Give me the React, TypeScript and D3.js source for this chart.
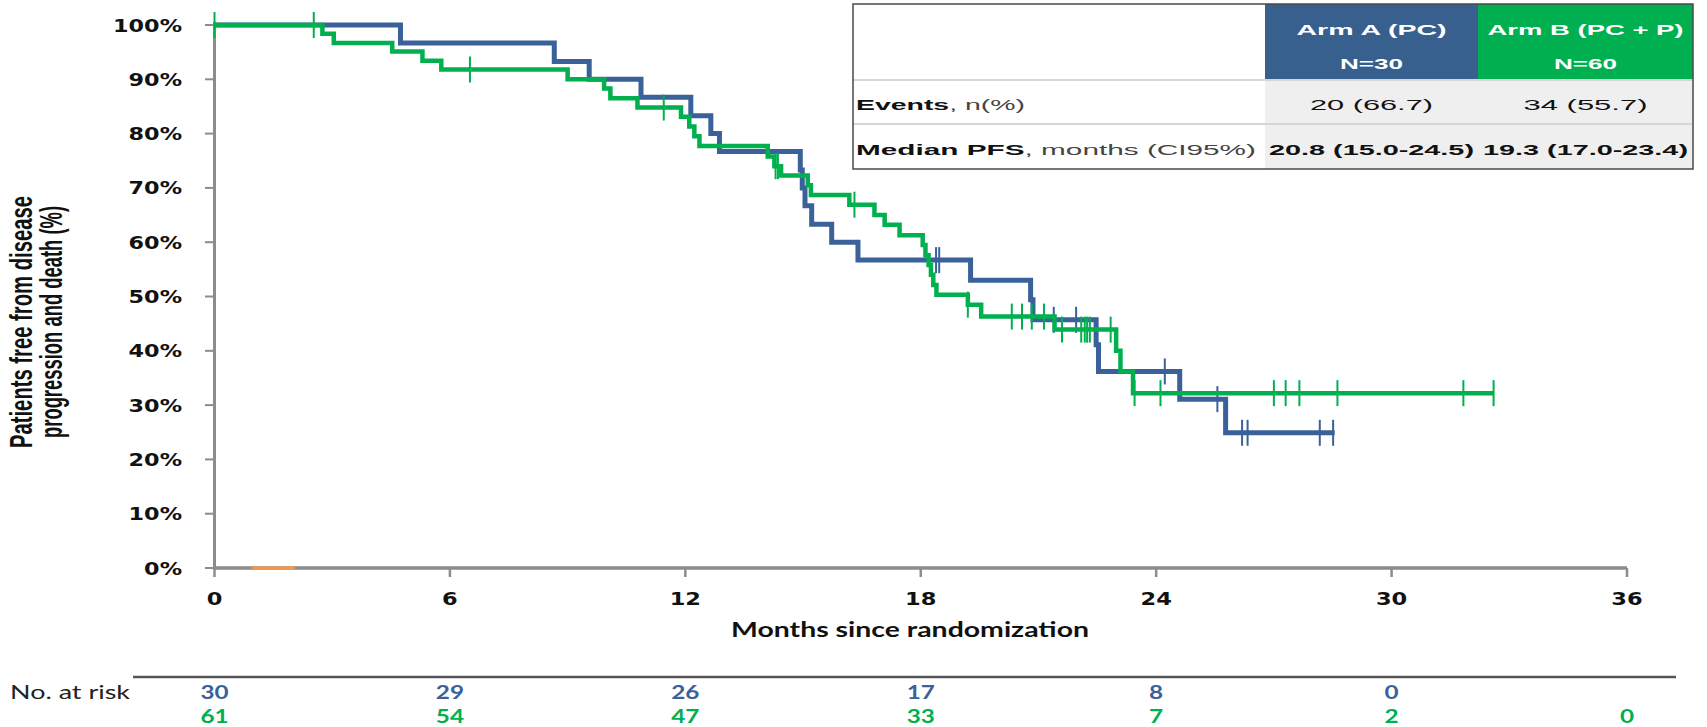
import React from "react";
import * as d3 from "d3";

// ---------- data ----------
const xTicks = [0, 6, 12, 18, 24, 30, 36];
const yTicks = [0, 10, 20, 30, 40, 50, 60, 70, 80, 90, 100];

// Arm A (PC) Kaplan-Meier steps
const armATimes = [4.74, 8.66, 9.55, 10.87, 12.14, 12.65, 12.87, 14.93, 14.98, 15.05, 15.22, 15.73, 16.4, 19.27, 20.8, 20.86, 22.47, 22.53, 24.6, 25.77];
const armAValues = [96.7, 93.3, 90.0, 86.7, 83.3, 80.0, 76.7, 73.3, 70.0, 66.7, 63.3, 60.0, 56.7, 53.0, 49.4, 45.7, 41.1, 36.2, 31.1, 24.9];
const armAEnd = 28.55;
const armACensors = [18.39, 18.47, 21.39, 21.96, 24.22, 25.56, 26.19, 26.33, 28.17, 28.51];

// Arm B (PC + P) Kaplan-Meier steps
const armBTimes = [2.75, 3.04, 4.53, 5.3, 5.78, 9.0, 9.93, 10.09, 10.78, 11.89, 12.1, 12.23, 12.36, 14.1, 14.27, 14.44, 15.12, 15.2, 16.18, 16.82, 17.08, 17.46, 18.05, 18.12, 18.2, 18.26, 18.32, 18.4, 19.2, 19.54, 21.41, 22.98, 23.09, 23.41];
const armBValues = [98.4, 96.7, 95.1, 93.4, 91.8, 90.0, 88.3, 86.5, 84.8, 83.1, 81.3, 79.5, 77.7, 75.8, 74.0, 72.3, 70.5, 68.7, 66.9, 65.0, 63.2, 61.3, 59.5, 57.6, 55.8, 54.0, 52.1, 50.3, 48.5, 46.3, 43.9, 40.0, 36.2, 32.2];
const armBEnd = 32.6;
const armBCensors = [0, 2.53, 6.51, 11.45, 14.3, 14.36, 16.31, 19.2, 20.32, 20.58, 20.83, 21.14, 21.6, 22.09, 22.18, 22.24, 22.31, 22.84, 23.45, 24.11, 27.0, 27.3, 27.65, 28.62, 31.83, 32.6];

const orangeSegment = [0.95, 2.05];

const riskTimes = [0, 6, 12, 18, 24, 30, 36];
const riskA = ["30", "29", "26", "17", "8", "0"];
const riskB = ["61", "54", "47", "33", "7", "2", "0"];

const tableHeaderA = ["Arm A (PC)", "N=30"];
const tableHeaderB = ["Arm B (PC + P)", "N=60"];
const eventsRow = ["20 (66.7)", "34 (55.7)"];
const medianRow = ["20.8 (15.0-24.5)", "19.3 (17.0-23.4)"];

// ---------- styles ----------
const BLUE = "#3a6199";
const GREEN = "#00b04f";
const AXIS = "#8c8c8c";
const HEADER_BLUE = "#38608f";
const HEADER_GREEN = "#00b050";

const W = 1707;
const H = 727;

const x = d3.scaleLinear().domain([0, 36]).range([214.5, 1627]);
const y = d3.scaleLinear().domain([0, 100]).range([568, 25]);

function stepPoints(times: number[], values: number[], end: number): [number, number][] {
  const pts: [number, number][] = [[0, 100]];
  times.forEach((t, i) => pts.push([t, values[i]]));
  pts.push([end, values[values.length - 1]]);
  return pts;
}

function survAt(times: number[], values: number[], t: number): number {
  let v = 100;
  for (let i = 0; i < times.length; i++) {
    if (times[i] <= t) v = values[i];
  }
  return v;
}

const line = d3
  .line<[number, number]>()
  .x((d) => x(d[0]))
  .y((d) => y(d[1]))
  .curve(d3.curveStepAfter);

export default function App() {
  const pathA = line(stepPoints(armATimes, armAValues, armAEnd)) || "";
  const pathB = line(stepPoints(armBTimes, armBValues, armBEnd)) || "";

  const tickFont = "'DejaVu Sans', Verdana, sans-serif";
  const tabFont = "'Liberation Sans', Arial, sans-serif";
  const titleFont = "'Liberation Sans Narrow', 'Liberation Sans', sans-serif";

  // table geometry
  const tL = 853, tR = 1693, tT = 4, tHB = 80, tDiv = 124, tB = 169;
  const c1 = 1265, c2 = 1478;
  const cA = (c1 + c2) / 2;
  const cB = (c2 + tR) / 2;

  return (
    <svg
      width={W}
      height={H}
      viewBox={`0 0 ${W} ${H}`}
      style={{ position: "absolute", left: 0, top: 0, display: "block", background: "#fff" }}
    >
      {/* y-axis title */}
      <g transform="translate(32,322) rotate(-90) scale(1,1.55)">
        <text textAnchor="middle" fontFamily={titleFont} fontWeight="bold" fontSize={20} fill="#111" textLength={252} lengthAdjust="spacingAndGlyphs">
          Patients free  from  disease
        </text>
      </g>
      <g transform="translate(62,322) rotate(-90) scale(1,1.55)">
        <text textAnchor="middle" fontFamily={titleFont} fontWeight="bold" fontSize={20} fill="#111" textLength={232} lengthAdjust="spacingAndGlyphs">
          progression  and  death  (%)
        </text>
      </g>

      {/* y ticks and labels */}
      {yTicks.map((v) => (
        <g key={"yt" + v}>
          <line x1={205} x2={214.5} y1={y(v)} y2={y(v)} stroke={AXIS} strokeWidth={2} />
          <text
            transform={`translate(182,${y(v) + 6.5}) scale(1.24,1)`}
            textAnchor="end"
            fontFamily={tickFont}
            fontWeight="bold"
            fontSize={18}
            fill="#111"
          >
            {v + "%"}
          </text>
        </g>
      ))}

      {/* x ticks and labels */}
      {xTicks.map((t) => (
        <g key={"xt" + t}>
          <line x1={x(t)} x2={x(t)} y1={568} y2={577} stroke={AXIS} strokeWidth={2.5} />
          <text
            transform={`translate(${x(t)},605) scale(1.25,1)`}
            textAnchor="middle"
            fontFamily={tickFont}
            fontWeight="bold"
            fontSize={18}
            fill="#111"
          >
            {t}
          </text>
        </g>
      ))}

      {/* axes */}
      <line x1={214.5} x2={214.5} y1={22} y2={569} stroke={AXIS} strokeWidth={3} />
      <line x1={213} x2={1627} y1={568} y2={568} stroke={AXIS} strokeWidth={3.5} />
      <line x1={x(orangeSegment[0])} x2={x(orangeSegment[1])} y1={568} y2={568} stroke="#f79646" strokeWidth={3} />

      {/* x-axis title */}
      <text x={910} y={637} textAnchor="middle" fontFamily="Lato, 'Open Sans', sans-serif" fontWeight="bold" fontSize={21} fill="#111" textLength={358} lengthAdjust="spacingAndGlyphs">
        Months since randomization
      </text>

      {/* curves */}
      <path d={pathA} fill="none" stroke={BLUE} strokeWidth={5} />
      {armACensors.map((t, i) => {
        const yy = y(survAt(armATimes, armAValues, t));
        return <line key={"ca" + i} x1={x(t)} x2={x(t)} y1={yy - 13} y2={yy + 13} stroke={BLUE} strokeWidth={2} />;
      })}
      <path d={pathB} fill="none" stroke={GREEN} strokeWidth={4.5} />
      {armBCensors.map((t, i) => {
        const yy = y(survAt(armBTimes, armBValues, t));
        return <line key={"cb" + i} x1={x(t)} x2={x(t)} y1={yy - 13} y2={yy + 13} stroke={GREEN} strokeWidth={2} />;
      })}

      {/* table */}
      <rect x={tL} y={tT} width={tR - tL} height={tB - tT} fill="#fff" />
      <rect x={c1} y={tT} width={c2 - c1} height={tHB - tT} fill={HEADER_BLUE} />
      <rect x={c2} y={tT} width={tR - c2} height={tHB - tT} fill={HEADER_GREEN} />
      <rect x={c1} y={tHB} width={tR - c1} height={tB - tHB} fill="#efefef" />
      <line x1={tL} x2={tR} y1={tHB} y2={tHB} stroke="#d6d6d6" strokeWidth={2} />
      <line x1={tL} x2={tR} y1={tDiv} y2={tDiv} stroke="#d6d6d6" strokeWidth={2} />
      <rect x={tL} y={tT} width={tR - tL} height={tB - tT} fill="none" stroke="#4a4a4a" strokeWidth={1.5} />

      <text x={cA} y={35} textAnchor="middle" fontFamily={tabFont} fontWeight="bold" fontSize={15} fill="#fff" textLength={150} lengthAdjust="spacingAndGlyphs">{tableHeaderA[0]}</text>
      <text x={cA} y={69} textAnchor="middle" fontFamily={tabFont} fontWeight="bold" fontSize={15} fill="#fff" textLength={63} lengthAdjust="spacingAndGlyphs">{tableHeaderA[1]}</text>
      <text x={cB} y={35} textAnchor="middle" fontFamily={tabFont} fontWeight="bold" fontSize={15} fill="#fff" textLength={196} lengthAdjust="spacingAndGlyphs">{tableHeaderB[0]}</text>
      <text x={cB} y={69} textAnchor="middle" fontFamily={tabFont} fontWeight="bold" fontSize={15} fill="#fff" textLength={63} lengthAdjust="spacingAndGlyphs">{tableHeaderB[1]}</text>

      <text x={856} y={110} fontFamily={tabFont} fontSize={15} fill="#111" textLength={169} lengthAdjust="spacingAndGlyphs">
        <tspan fontWeight="bold">Events</tspan>
        <tspan fill="#444">, n(%)</tspan>
      </text>
      <text x={cA} y={110} textAnchor="middle" fontFamily={tabFont} fontSize={15} fill="#111" textLength={123} lengthAdjust="spacingAndGlyphs">{eventsRow[0]}</text>
      <text x={cB} y={110} textAnchor="middle" fontFamily={tabFont} fontSize={15} fill="#111" textLength={124} lengthAdjust="spacingAndGlyphs">{eventsRow[1]}</text>

      <text x={856} y={155} fontFamily={tabFont} fontSize={15} fill="#111" textLength={400} lengthAdjust="spacingAndGlyphs">
        <tspan fontWeight="bold">Median PFS</tspan>
        <tspan fill="#444">, months (CI95%)</tspan>
      </text>
      <text x={cA} y={155} textAnchor="middle" fontFamily={tabFont} fontWeight="bold" fontSize={15} fill="#111" textLength={205} lengthAdjust="spacingAndGlyphs">{medianRow[0]}</text>
      <text x={cB} y={155} textAnchor="middle" fontFamily={tabFont} fontWeight="bold" fontSize={15} fill="#111" textLength={205} lengthAdjust="spacingAndGlyphs">{medianRow[1]}</text>

      {/* risk table */}
      <line x1={133} x2={1676} y1={677} y2={677} stroke="#555" strokeWidth={2.5} />
      <text x={10} y={699} fontFamily="Lato, 'Open Sans', sans-serif" fontSize={20} fill="#222" textLength={120} lengthAdjust="spacingAndGlyphs">
        No. at risk
      </text>
      {riskA.map((n, i) => (
        <text key={"ra" + i} transform={`translate(${x(riskTimes[i])},699) scale(1.35,1)`} textAnchor="middle" fontFamily="Lato, 'Open Sans', sans-serif" fontWeight="bold" fontSize={18} fill={BLUE}>
          {n}
        </text>
      ))}
      {riskB.map((n, i) => (
        <text key={"rb" + i} transform={`translate(${x(riskTimes[i])},723) scale(1.35,1)`} textAnchor="middle" fontFamily="Lato, 'Open Sans', sans-serif" fontWeight="bold" fontSize={18} fill={GREEN}>
          {n}
        </text>
      ))}
    </svg>
  );
}
